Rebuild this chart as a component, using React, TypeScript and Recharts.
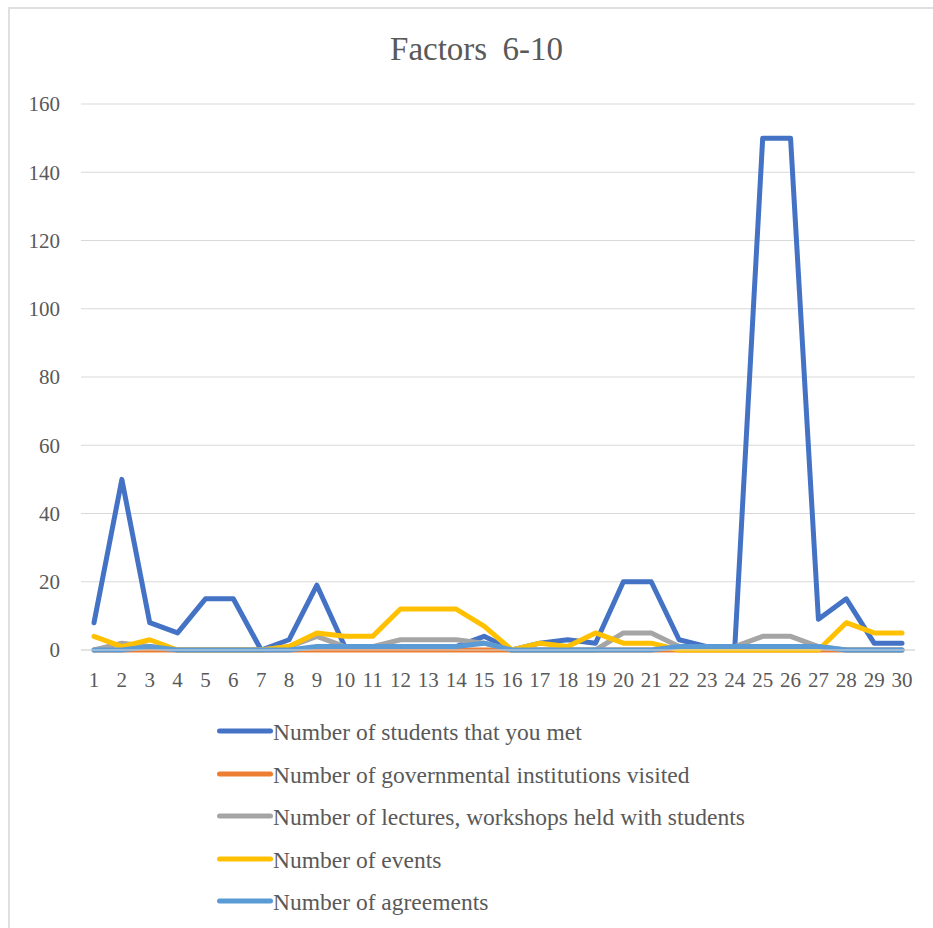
import { CartesianGrid, Legend, Line, LineChart, XAxis, YAxis } from 'recharts'

const days = Array.from({ length: 30 }, (_, i) => String(i + 1))

const students = [8, 50, 8, 5, 15, 15, 0, 3, 19, 1, 1, 1, 1, 1, 4, 0, 2, 3, 2, 20, 20, 3, 1, 1, 150, 150, 9, 15, 2, 2]
const institutions = [0, 0, 0, 0, 0, 0, 0, 0, 0, 0, 0, 0, 0, 0, 0, 0, 0, 0, 0, 0, 0, 0, 0, 0, 0, 0, 0, 0, 0, 0]
const lectures = [0, 2, 1, 0, 0, 0, 0, 1, 4, 1, 1, 3, 3, 3, 2, 0, 0, 0, 0, 5, 5, 1, 1, 1, 4, 4, 1, 0, 0, 0]
const events = [4, 1, 3, 0, 0, 0, 0, 1, 5, 4, 4, 12, 12, 12, 7, 0, 2, 1, 5, 2, 2, 0, 0, 0, 0, 0, 0, 8, 5, 5]
const agreements = [0, 0, 1, 0, 0, 0, 0, 0, 1, 1, 1, 1, 1, 1, 2, 0, 0, 0, 0, 0, 0, 1, 1, 1, 1, 1, 1, 0, 0, 0]

const yTicks = [0, 20, 40, 60, 80, 100, 120, 140, 160]

const series = [
  { key: 'students', name: 'Number of students that you met', color: '#4472C4', values: students },
  { key: 'institutions', name: 'Number of governmental institutions visited', color: '#ED7D31', values: institutions },
  { key: 'lectures', name: 'Number of lectures, workshops held with students', color: '#A5A5A5', values: lectures },
  { key: 'events', name: 'Number of events', color: '#FFC000', values: events },
  { key: 'agreements', name: 'Number of agreements', color: '#5B9BD5', values: agreements },
]

const data = days.map((day, i) => {
  const row: Record<string, string | number> = { day }
  series.forEach((s) => {
    row[s.key] = s.values[i]
  })
  return row
})

const font = '"Liberation Serif", "Times New Roman", serif'
const textColor = '#595959'

function LegendList() {
  return (
    <div style={{ height: 228, paddingTop: 10, boxSizing: 'border-box', paddingLeft: 215 }}>
      {series.map((s) => (
        <div
          key={s.key}
          style={{ height: 42.5, display: 'flex', alignItems: 'center' }}
        >
          <svg width={58} height={10} style={{ display: 'block' }}>
            <line x1={4.5} y1={5} x2={55.5} y2={5} stroke={s.color} strokeWidth={5} strokeLinecap="round" />
          </svg>
          <span style={{ fontFamily: font, fontSize: 23.5, color: textColor, lineHeight: 1, marginTop: 3 }}>
            {s.name}
          </span>
        </div>
      ))}
    </div>
  )
}

export default function App() {
  return (
    <div style={{ position: 'absolute', left: 0, top: 0, width: 933, height: 928, overflow: 'hidden', background: '#fff' }}>
      <div
        style={{
          position: 'absolute',
          left: 8,
          top: 7,
          width: 960,
          height: 960,
          border: '2px solid #e0e0e0',
        }}
      />
      <div
        style={{
          position: 'absolute',
          left: 0,
          top: 33,
          width: 953,
          textAlign: 'center',
          fontFamily: font,
          fontSize: 33,
          lineHeight: '33px',
          color: textColor,
          wordSpacing: 7,
        }}
      >
        Factors 6-10
      </div>
      <LineChart
        width={933}
        height={928}
        data={data}
        margin={{ top: 104, right: 18, left: 0, bottom: 0 }}
        style={{ position: 'absolute', left: 0, top: 0 }}
      >
        <CartesianGrid vertical={false} stroke="#d9d9d9" strokeWidth={1.2} />
        <XAxis
          dataKey="day"
          height={50}
          padding={{ left: 13, right: 13 }}
          axisLine={{ stroke: '#d9d9d9', strokeWidth: 1.2 }}
          tickLine={false}
          tickSize={0}
          tickMargin={22}
          interval={0}
          tick={{ fill: textColor, fontSize: 21, fontFamily: font }}
        />
        <YAxis
          width={81}
          domain={[0, 160]}
          ticks={yTicks}
          axisLine={false}
          tickLine={false}
          tickSize={0}
          tickMargin={21}
          tick={{ fill: textColor, fontSize: 21, fontFamily: font }}
        />
        <Legend
          layout="horizontal"
          verticalAlign="bottom"
          align="left"
          wrapperStyle={{ left: 0, bottom: 0, width: 933 }}
          content={() => <LegendList />}
        />
        {series.map((s) => (
          <Line
            key={s.key}
            type="linear"
            dataKey={s.key}
            name={s.name}
            stroke={s.color}
            strokeWidth={5}
            strokeLinejoin="round"
            strokeLinecap="round"
            dot={false}
            activeDot={false}
            isAnimationActive={false}
          />
        ))}
      </LineChart>
    </div>
  )
}
